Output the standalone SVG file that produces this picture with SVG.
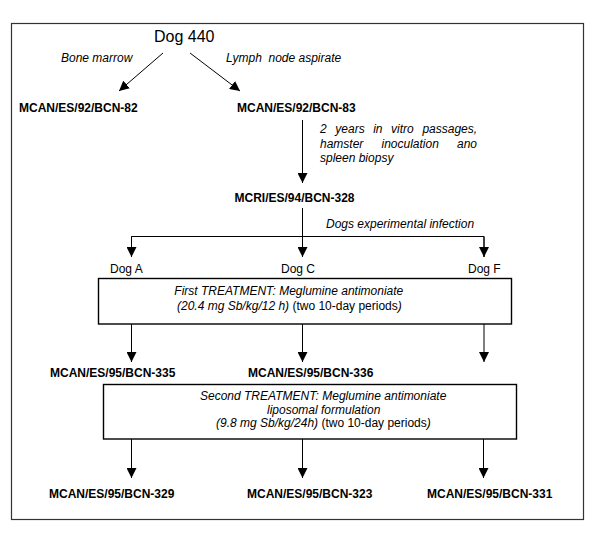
<svg xmlns="http://www.w3.org/2000/svg" width="600" height="550" viewBox="0 0 600 550">
<style>
text{font-family:"Liberation Sans",Arial,sans-serif;font-size:12px;fill:#000}
.b{font-weight:bold}
.i{font-style:italic}
.n{font-style:normal}
.big{font-size:16px}
.ln{stroke:#000;stroke-width:1;fill:none}
.bx{stroke:#000;stroke-width:1.4;fill:#fff}
</style>
<defs>
<marker id="ah" viewBox="0 0 10 10" refX="10" refY="5" markerWidth="10" markerHeight="10" markerUnits="userSpaceOnUse" orient="auto">
<path d="M0,0 L10,5 L0,10 Z" fill="#000"/>
</marker>
</defs>
<rect x="11.5" y="23.5" width="572" height="496" fill="#fff" stroke="#333" stroke-width="1.2"/>

<g id="connectors">
<line class="ln" x1="163" y1="53" x2="119" y2="91" marker-end="url(#ah)"/>
<line class="ln" x1="190" y1="53" x2="240" y2="91" marker-end="url(#ah)"/>
<line class="ln" x1="302.5" y1="120" x2="302.5" y2="183" marker-end="url(#ah)"/>
<line class="ln" x1="302.5" y1="208" x2="302.5" y2="257" marker-end="url(#ah)"/>
<polyline class="ln" points="131.5,257 131.5,236.5 484,236.5 484,257"/>
<line class="ln" x1="131.5" y1="236.5" x2="131.5" y2="257" marker-end="url(#ah)"/>
<line class="ln" x1="484" y1="236.5" x2="484" y2="257" marker-end="url(#ah)"/>
<line class="ln" x1="131.5" y1="324" x2="131.5" y2="362" marker-end="url(#ah)"/>
<line class="ln" x1="302.5" y1="324" x2="302.5" y2="362" marker-end="url(#ah)"/>
<line class="ln" x1="484" y1="324" x2="484" y2="362" marker-end="url(#ah)"/>
<line class="ln" x1="131.5" y1="439" x2="131.5" y2="478" marker-end="url(#ah)"/>
<line class="ln" x1="302.5" y1="439" x2="302.5" y2="478" marker-end="url(#ah)"/>
<line class="ln" x1="483.5" y1="439" x2="483.5" y2="478" marker-end="url(#ah)"/>
<text class="i" x="61" y="62">Bone marrow</text>
<text class="i" x="226" y="62" style="white-space:pre">Lymph  node aspirate</text>
<text class="i" y="133"><tspan x="320">2</tspan><tspan x="335.3">years</tspan><tspan x="373.2">in</tspan><tspan x="391.1">vitro</tspan><tspan x="422.4">passages,</tspan></text>
<text class="i" y="148"><tspan x="320">hamster</tspan><tspan x="381.5">inoculation</tspan><tspan x="457">ano</tspan></text>
<text class="i" x="320" y="162">spleen biopsy</text>
<text class="i" x="326" y="228">Dogs experimental infection</text>
</g>

<g id="dog440"><text class="big" x="154" y="42">Dog 440</text></g>
<g id="bcn82"><text class="b" x="19" y="112">MCAN/ES/92/BCN-82</text></g>
<g id="bcn83"><text class="b" x="237" y="112">MCAN/ES/92/BCN-83</text></g>
<g id="bcn328"><text class="b" x="234.5" y="201.5">MCRI/ES/94/BCN-328</text></g>
<g id="dogA"><text x="110" y="272.5">Dog A</text></g>
<g id="dogC"><text x="281" y="272.5">Dog C</text></g>
<g id="dogF"><text x="468" y="272.5">Dog F</text></g>

<g id="treatment1">
<rect class="bx" x="98.5" y="278.5" width="413" height="45.5"/>
<text class="i" x="174.3" y="295">First TREATMENT: Meglumine antimoniate</text>
<text class="i" x="177" y="310">(20.4 mg Sb/kg/12 h) <tspan class="n">(two 10-day periods</tspan>)</text>
</g>

<g id="bcn335"><text class="b" x="50" y="376.5">MCAN/ES/95/BCN-335</text></g>
<g id="bcn336"><text class="b" x="248" y="376.5">MCAN/ES/95/BCN-336</text></g>

<g id="treatment2">
<rect class="bx" x="103.5" y="384.5" width="413" height="54.5"/>
<text class="i" x="200" y="399.5">Second TREATMENT: Meglumine antimoniate</text>
<text class="i" x="267" y="413.5">liposomal formulation</text>
<text class="i" x="216" y="427">(9.8 mg Sb/kg/24h) <tspan class="n">(two 10-day periods</tspan>)</text>
</g>

<g id="bcn329"><text class="b" x="49" y="498">MCAN/ES/95/BCN-329</text></g>
<g id="bcn323"><text class="b" x="247" y="498">MCAN/ES/95/BCN-323</text></g>
<g id="bcn331"><text class="b" x="427" y="498">MCAN/ES/95/BCN-331</text></g>
</svg>
